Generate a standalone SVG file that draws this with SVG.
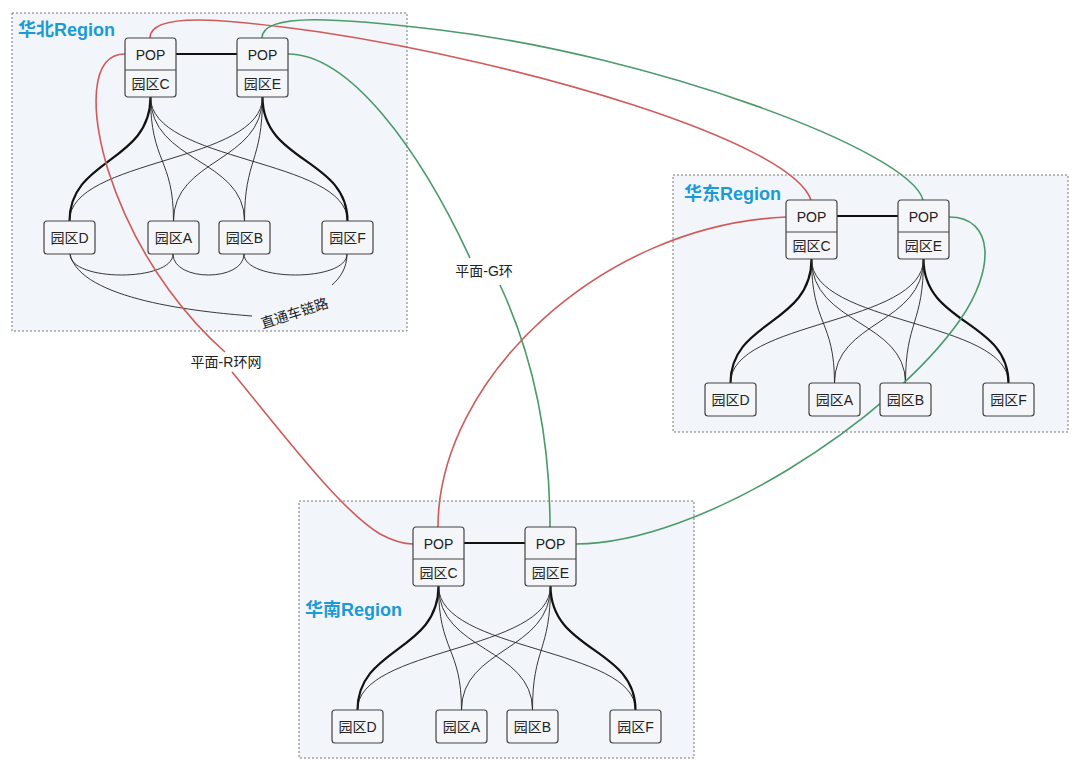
<svg xmlns="http://www.w3.org/2000/svg" width="1080" height="764" viewBox="0 0 1080 764">
<style>
.reg{fill:#f2f5f9;stroke:#777;stroke-width:1;stroke-dasharray:2,2}
.title{font-family:"Liberation Sans","Noto Sans CJK SC",sans-serif;font-weight:bold;font-size:18px;fill:#1a9ad6}
.box{fill:#f4f6f9;stroke:#444;stroke-width:1.2}
.t{font-family:"Liberation Sans","Noto Sans CJK SC",sans-serif;font-size:14px;fill:#222;text-anchor:middle}
.lbl{font-family:"Liberation Sans","Noto Sans CJK SC",sans-serif;font-size:14px;fill:#222;text-anchor:middle}
.thin{fill:none;stroke:#222;stroke-width:0.9}
.thick{fill:none;stroke:#111;stroke-width:2.2}
.red{fill:none;stroke:#d05a5a;stroke-width:1.6}
.green{fill:none;stroke:#4a9a6a;stroke-width:1.6}
</style>
<defs>
<g id="links">
<path class="thick" d="M25.5,59 C25.5,125 -55.5,120 -55.5,183"/>
<path class="thin" d="M25.5,59 C25.5,125 48.5,120 48.5,183"/>
<path class="thin" d="M25.5,59 C25.5,125 119.5,120 119.5,183"/>
<path class="thin" d="M25.5,59 C25.5,125 222.5,120 222.5,183"/>
<path class="thick" d="M137.5,59 C137.5,125 222.5,120 222.5,183"/>
<path class="thin" d="M137.5,59 C137.5,125 -55.5,120 -55.5,183"/>
<path class="thin" d="M137.5,59 C137.5,125 48.5,120 48.5,183"/>
<path class="thin" d="M137.5,59 C137.5,125 119.5,120 119.5,183"/>
<line x1="51" y1="16" x2="112" y2="16" stroke="#111" stroke-width="2"/>
</g>
<g id="nodes">
<g><rect class="box" x="0" y="0" width="51" height="59" rx="3"/><line x1="0" y1="32" x2="51" y2="32" stroke="#444"/><text class="t" x="25.5" y="22">POP</text><text class="t" x="25.5" y="51">园区C</text></g>
<g><rect class="box" x="112" y="0" width="51" height="59" rx="3"/><line x1="112" y1="32" x2="163" y2="32" stroke="#444"/><text class="t" x="137.5" y="22">POP</text><text class="t" x="137.5" y="51">园区E</text></g>
<g><rect class="box" x="-81" y="183" width="51" height="33" rx="3"/><text class="t" x="-55.5" y="205">园区D</text></g>
<g><rect class="box" x="23" y="183" width="51" height="33" rx="3"/><text class="t" x="48.5" y="205">园区A</text></g>
<g><rect class="box" x="94" y="183" width="51" height="33" rx="3"/><text class="t" x="119.5" y="205">园区B</text></g>
<g><rect class="box" x="197" y="183" width="51" height="33" rx="3"/><text class="t" x="222.5" y="205">园区F</text></g>
</g>
</defs>
<rect width="1080" height="764" fill="#fff"/>
<g id="region-north"><rect class="reg" x="12" y="13" width="395" height="318"/><text class="title" x="18" y="36">华北Region</text></g>
<g id="region-east"><rect class="reg" x="673" y="175" width="395" height="257"/><text class="title" x="684" y="200">华东Region</text></g>
<g id="region-south"><rect class="reg" x="299" y="501" width="395" height="257"/><text class="title" x="305" y="616">华南Region</text></g>
<g id="connectors">
<use href="#links" transform="translate(125,38)"/>
<use href="#links" transform="translate(786,200)"/>
<use href="#links" transform="translate(413,527)"/>
<path class="thin" d="M70,254 C70,282 173,282 173,254"/>
<path class="thin" d="M173,254 C173,282 244,282 244,254"/>
<path class="thin" d="M244,254 C244,282 347,282 347,254"/>
<path class="thin" d="M70,254 C80,300 200,312 252,316"/>
<path class="thin" d="M332,285 C340,278 347,268 347,254"/>
<path class="red" d="M125,54 C90,54 90,110 108,170 C140,270 200,330 225,352"/>
<path class="red" d="M232,372 C280,430 340,510 380,534 C395,542 405,544 413,544"/>
<path class="red" d="M150,38 C150,12 220,18 320,32 C520,62 790,140 811,200"/>
<path class="red" d="M438,527 C438,380 600,225 786,217"/>
<path class="green" d="M262,38 C262,12 340,18 440,30 C650,55 910,150 923,200"/>
<path class="green" d="M288,54 C350,54 420,150 470,258"/>
<path class="green" d="M500,285 C535,360 550,440 550,527"/>
<path class="green" d="M949,217 C995,217 995,270 960,320 C890,420 700,544 576,544"/>
</g>
<use href="#nodes" transform="translate(125,38)"/>
<use href="#nodes" transform="translate(786,200)"/>
<use href="#nodes" transform="translate(413,527)"/>
<g id="labels">
<text class="lbl" x="296" y="318" transform="rotate(-18 296 318)">直通车链路</text>
<text class="lbl" x="226" y="367">平面-R环网</text>
<text class="lbl" x="484" y="276">平面-G环</text>
</g>
</svg>
